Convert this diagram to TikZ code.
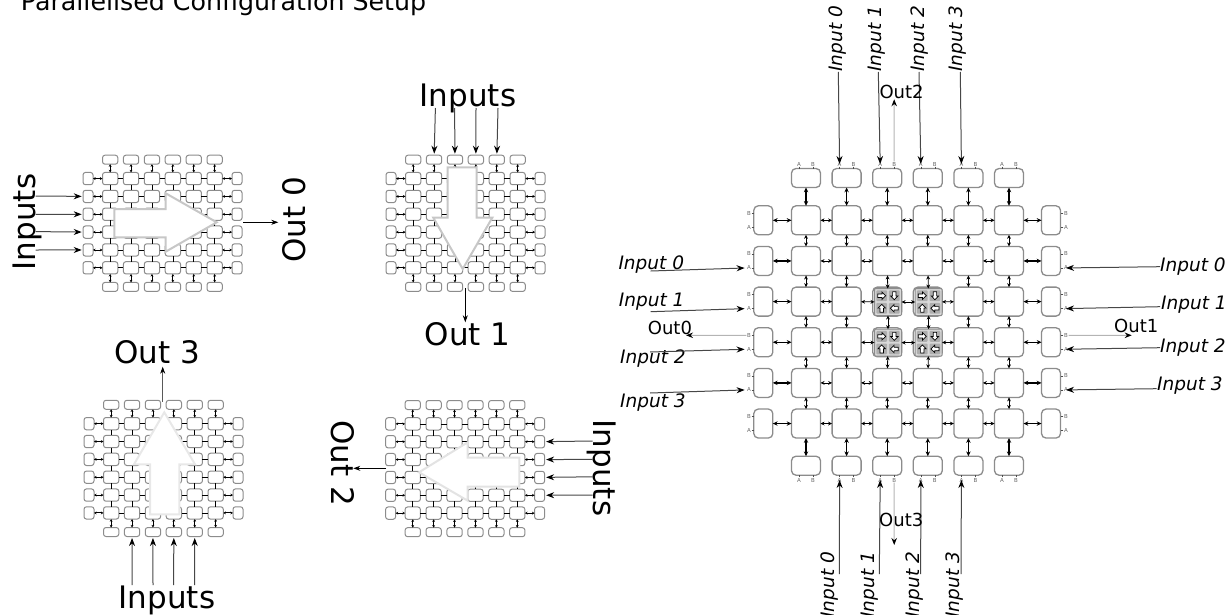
\documentclass[tikz,border=0pt]{standalone}
\usepackage{fontspec}
\setmainfont{DejaVu Sans}
\usetikzlibrary{arrows.meta}

\definecolor{cellgray}{HTML}{8C8C8C}
\definecolor{outgray}{HTML}{B4B4B4}
\tikzset{
  cell/.style={draw=cellgray,fill=white,line width=1pt,rounded corners=#1,inner sep=0pt,outer sep=0pt},
  cell/.default=2.5pt,
  smallcell/.style={cell,minimum width=15.3pt,minimum height=12.3pt},
  smalltop/.style={cell,minimum width=15.3pt,minimum height=9pt},
  smallside/.style={cell,minimum width=10pt,minimum height=12.3pt},
  bigcell/.style={cell=4.5pt,line width=1.3pt,minimum width=29pt,minimum height=29pt},
  bigtop/.style={cell=4.5pt,line width=1.3pt,minimum width=29pt,minimum height=19pt},
  bigside/.style={cell=4.5pt,line width=1.3pt,minimum width=19pt,minimum height=29pt},
  meshlink/.style={line width=0.7pt,black},
  portlink/.style={line width=0.9pt,{Stealth[length=2.6pt,width=2.8pt]}-{Stealth[length=2.6pt,width=2.8pt]}},
  biglink/.style={line width=0.8pt,{Stealth[length=4pt,width=3.8pt]}-{Stealth[length=4pt,width=3.8pt]}},
  bigportlink/.style={line width=1.2pt,{Stealth[length=4.8pt,width=4.4pt]}-{Stealth[length=4.8pt,width=4.4pt]}},
  inarrow/.style={line width=1pt,draw=black!72,-{Stealth[length=8pt,width=6pt,color=black]}},
  outarrow/.style={line width=1pt,draw=outgray,-{Stealth[length=7pt,width=5.5pt,color=black]}},
  outblack/.style={line width=0.8pt,draw=black,-{Stealth[length=7pt,width=5pt,color=black]}},
  blockarrow/.style={fill=white,line width=2pt,line join=miter},
  largetext/.style={font=\fontsize{31}{31}\selectfont,inner sep=0pt},
  inlabel/.style={font=\fontsize{18.5}{18.5}\selectfont\itshape,inner sep=0pt},
  outlabel/.style={font=\fontsize{18}{18}\selectfont,inner sep=0pt},
  pinlabel/.style={font=\fontsize{5.5}{5.5}\selectfont,text=black!60,inner sep=0.5pt},
  pintick/.style={line width=0.6pt,draw=black!70},
  switchbox/.style={draw=cellgray,fill=black!15,line width=1pt,rounded corners=1pt,minimum width=27pt,minimum height=27pt,inner sep=0pt,outer sep=0pt},
  switchpad/.style={fill=black!32,rounded corners=1pt,minimum width=10.8pt,minimum height=10.8pt,inner sep=0pt},
  switchtip/.style={draw=black,fill=white,line width=0.7pt,line join=miter},
}

\newcommand{\smallmesh}[3]{
  \foreach \i in {1,...,6} {
    \node[smalltop] (#1-t-\i) at ({#2+(\i-3.5)*20.9},{#3-63.5}) {};
    \node[smalltop] (#1-b-\i) at ({#2+(\i-3.5)*20.9},{#3+63.7}) {};
    \node[smallside] (#1-l-\i) at ({#2-74.4},{#3+(\i-3.5)*17.85}) {};
    \node[smallside] (#1-r-\i) at ({#2+74.6},{#3+(\i-3.5)*17.85}) {};
    \foreach \j in {1,...,6}
      \node[smallcell] (#1-c-\i-\j) at ({#2+(\i-3.5)*20.9},{#3+(\j-3.5)*17.85}) {};
  }
  \foreach \i in {1,...,6} {
    \draw[portlink] (#1-t-\i) -- (#1-c-\i-1);
    \draw[portlink] (#1-b-\i) -- (#1-c-\i-6);
    \draw[portlink] (#1-l-\i) -- (#1-c-1-\i);
    \draw[portlink] (#1-r-\i) -- (#1-c-6-\i);
    \foreach \j [evaluate=\j as \n using int(\j+1)] in {1,...,5} {
      \draw[meshlink] (#1-c-\i-\j) -- (#1-c-\i-\n);
      \draw[meshlink] (#1-c-\j-\i) -- (#1-c-\n-\i);
    }
  }
}

\begin{document}
\begin{tikzpicture}[x=1pt,y=-1pt,>=Stealth]
  \useasboundingbox (0,0) rectangle (1231,615);
  \node[anchor=base west,font=\fontsize{25.3}{25.3}\selectfont,inner sep=0pt] (title) at (20.7,11) {Parallelised Configuration Setup};

  \smallmesh{east}{162.4}{223.2}
  \draw[blockarrow,draw=black!22] (114.3,209) -- (165.7,209) -- (165.7,193.3) -- (216.7,222.3) -- (165.7,251.7) -- (165.7,237.3) -- (114.3,237.3) -- cycle;
  \node[largetext,rotate=90,anchor=base] (eastin) at (35,222) {Inputs};
  \node[largetext,rotate=90,anchor=base] (eastout) at (305,220) {Out 0};
  \foreach \j/\yy in {2/196,3/214.4,4/231.6,5/250} {
    \coordinate (eastfrom\j) at (35.7,\yy);
    \draw[inarrow,shorten >=1.3pt] (eastfrom\j) -- (east-l-\j);
  }
  \coordinate (eastoutA) at (243,222.3);
  \coordinate (eastoutB) at (278.3,222.3);
  \draw[outblack] (eastoutA) -- (eastoutB);

  \smallmesh{south}{465.4}{223.2}
  \draw[blockarrow,draw=black!22] (447.7,167.3) -- (476.7,167.3) -- (476.7,217.7) -- (492.3,217.7) -- (462.7,269) -- (433.3,217.7) -- (447.7,217.7) -- cycle;
  \node[largetext,anchor=base] (southin) at (468,106.7) {Inputs};
  \node[largetext,anchor=base] (southout) at (467.5,345) {Out 1};
  \foreach \i/\xx in {2/435.4,3/454.6,4/476,5/498} {
    \coordinate (southfrom\i) at (\xx,108);
    \draw[inarrow,shorten >=1.5pt] (southfrom\i) -- (south-t-\i);
  }
  \coordinate (southoutA) at (465.3,288.3);
  \coordinate (southoutB) at (465.3,322.3);
  \draw[outblack] (southoutA) -- (southoutB);

  \smallmesh{north}{163.4}{468.3}
  \draw[blockarrow,draw=black!9] (150,514.3) -- (179.3,514.3) -- (179.3,464.3) -- (195,464.3) -- (164.3,412.3) -- (134,464.3) -- (150,464.3) -- cycle;
  \node[largetext,anchor=base] (northout) at (157.2,363) {Out 3};
  \node[largetext,anchor=base] (northin) at (167,608) {Inputs};
  \foreach \i/\xx in {2/132,3/153,4/173.6,5/194.6} {
    \coordinate (northfrom\i) at (\xx,585);
    \draw[inarrow,shorten >=1.5pt] (northfrom\i) -- (north-b-\i);
  }
  \coordinate (northoutA) at (162.7,401.7);
  \coordinate (northoutB) at (162.7,366.7);
  \draw[outblack,draw=black!65] (northoutA) -- (northoutB);

  \smallmesh{west}{465}{468.5}
  \draw[blockarrow,draw=black!11] (519.3,457.7) -- (467.7,457.7) -- (467.7,442.3) -- (419,472.3) -- (467.7,500.7) -- (467.7,486.7) -- (519.3,486.7) -- cycle;
  \node[largetext,rotate=-90,anchor=base] (westin) at (593.5,468) {Inputs};
  \node[largetext,rotate=-90,anchor=base] (westout) at (331.7,463.3) {Out 2};
  \foreach \j/\yy in {2/441,3/459.4,4/476.8,5/495} {
    \coordinate (westfrom\j) at (592.7,\yy);
    \draw[inarrow,shorten >=1.5pt] (westfrom\j) -- (west-r-\j);
  }
  \coordinate (westoutA) at (386,468.3);
  \coordinate (westoutB) at (353.3,468.3);
  \draw[outblack] (westoutA) -- (westoutB);

  \foreach \i in {1,...,6} {
    \node[bigtop] (big-t-\i) at ({806+(\i-1)*40.6},178) {};
    \node[bigtop] (big-b-\i) at ({806+(\i-1)*40.6},465.7) {};
    \node[bigside] (big-l-\i) at (763.3,{220.3+(\i-1)*40.65}) {};
    \node[bigside] (big-r-\i) at (1051,{220.3+(\i-1)*40.65}) {};
    \node[pinlabel] (big-t-\i-A) at ({799+(\i-1)*40.6},164) {A};
    \node[pinlabel] (big-t-\i-B) at ({813+(\i-1)*40.6},164) {B};
    \node[pinlabel] (big-b-\i-A) at ({799+(\i-1)*40.6},480) {A};
    \node[pinlabel] (big-b-\i-B) at ({813+(\i-1)*40.6},480) {B};
    \node[pinlabel] (big-l-\i-B) at (749,{213.3+(\i-1)*40.65}) {B};
    \node[pinlabel] (big-l-\i-A) at (749,{227.3+(\i-1)*40.65}) {A};
    \node[pinlabel] (big-r-\i-B) at (1066,{213.3+(\i-1)*40.65}) {B};
    \node[pinlabel] (big-r-\i-A) at (1066,{227.3+(\i-1)*40.65}) {A};
    \foreach \p in {A,B} {
      \draw[pintick] (big-t-\i-\p.south) -- ++(0,1.8);
      \draw[pintick] (big-b-\i-\p.north) -- ++(0,-2.4);
      \draw[pintick] (big-l-\i-\p.east) -- ++(2.2,0);
      \draw[pintick] (big-r-\i-\p.west) -- ++(-2.5,0);
    }
    \foreach \j in {1,...,6}
      \node[bigcell] (big-c-\i-\j) at ({806+(\i-1)*40.6},{220.3+(\j-1)*40.65}) {};
  }
  \foreach \i/\j in {3/3,4/3,3/4,4/4} {
    \node[switchbox] (big-c-\i-\j) at ({888+(\i-3)*40.6},{302+(\j-3)*40.65}) {};
    \foreach \q/\dx/\dy/\turn in {a/-6.3/-6.3/0,b/6.3/-6.3/-90,c/-6.3/6.3/90,d/6.3/6.3/180} {
      \node[switchpad] (pad-\i-\j-\q) at ([shift={(\dx,\dy)}]big-c-\i-\j.center) {};
      \draw[switchtip,shift={(pad-\i-\j-\q.center)},rotate=\turn] (-4,-1.7) -- (0.2,-1.7) -- (0.2,-3.7) -- (4,0) -- (0.2,3.7) -- (0.2,1.7) -- (-4,1.7) -- cycle;
    }
  }
  \foreach \i in {1,...,6} {
    \draw[bigportlink] (big-t-\i) -- (big-c-\i-1);
    \draw[bigportlink] (big-b-\i) -- (big-c-\i-6);
    \draw[bigportlink] (big-l-\i) -- (big-c-1-\i);
    \draw[bigportlink] (big-r-\i) -- (big-c-6-\i);
    \foreach \j [evaluate=\j as \n using int(\j+1)] in {1,...,5} {
      \draw[biglink] (big-c-\i-\j) -- (big-c-\i-\n);
      \draw[biglink] (big-c-\j-\i) -- (big-c-\n-\i);
    }
  }

  \foreach \k/\j/\tx/\ty/\ax/\ay in {0/2/618.3/269.3/650.7/271,1/3/618.7/306.7/650.7/311.7,2/4/620/363/650/352,3/5/620/407.7/650/393} {
    \node[inlabel,anchor=base west] (leftin\k) at (\tx,\ty) {Input \k};
    \coordinate (leftfrom\k) at (\ax,\ay);
    \draw[inarrow,shorten >=1.8pt] (leftfrom\k) -- (big-l-\j-A.west);
  }
  \foreach \k/\j/\tx/\ty/\ax/\ay in {0/2/1160/271/1160/266.7,1/3/1161/309/1160/306.7,2/4/1160/352.7/1160/347.7,3/5/1157/390/1156.7/388.7} {
    \node[inlabel,anchor=base west] (rightin\k) at (\tx,\ty) {Input \k};
    \coordinate (rightfrom\k) at (\ax,\ay);
    \draw[inarrow] (rightfrom\k) -- (big-r-\j-A.center);
  }
  \foreach \k/\i/\tx/\ax in {0/2/842.3/838.3,1/3/881/878.3,2/4/924.3/919,3/5/962.3/960.3} {
    \node[inlabel,rotate=90,anchor=base west] (topin\k) at (\tx,71.7) {Input \k};
    \coordinate (topfrom\k) at (\ax,72);
    \draw[inarrow] (topfrom\k) -- (big-t-\i-A.center);
  }
  \foreach \k/\i/\tx/\ax in {0/2/834.3/839.3,1/3/874.3/879.3,2/4/919.3/920.7,3/5/959.3/961} {
    \node[inlabel,rotate=90,anchor=base east] (botin\k) at (\tx,551.7) {Input \k};
    \coordinate (botfrom\k) at (\ax,574);
    \draw[inarrow] (botfrom\k) -- (big-b-\i-A.center);
  }

  \node[outlabel,anchor=base west] (leftout) at (647.7,334) {Out0};
  \node[outlabel,anchor=base west] (rightout) at (1114,332.7) {Out1};
  \node[outlabel,anchor=base west] (topout) at (879.3,98.3) {Out2};
  \node[outlabel,anchor=base west] (botout) at (879,526) {Out3};
  \coordinate (leftoutend) at (686,335.3);
  \coordinate (rightoutend) at (1131.7,335.3);
  \coordinate (topoutend) at (894.2,99.3);
  \coordinate (botoutend) at (894.2,545);
  \draw[outarrow] (big-l-4-B.west) -- (leftoutend);
  \draw[outarrow] (big-r-4-B.east) -- (rightoutend);
  \draw[outarrow] (big-t-3-B.north) -- (topoutend);
  \draw[outarrow] (big-b-3-B.south) -- (botoutend);
\end{tikzpicture}
\end{document}
